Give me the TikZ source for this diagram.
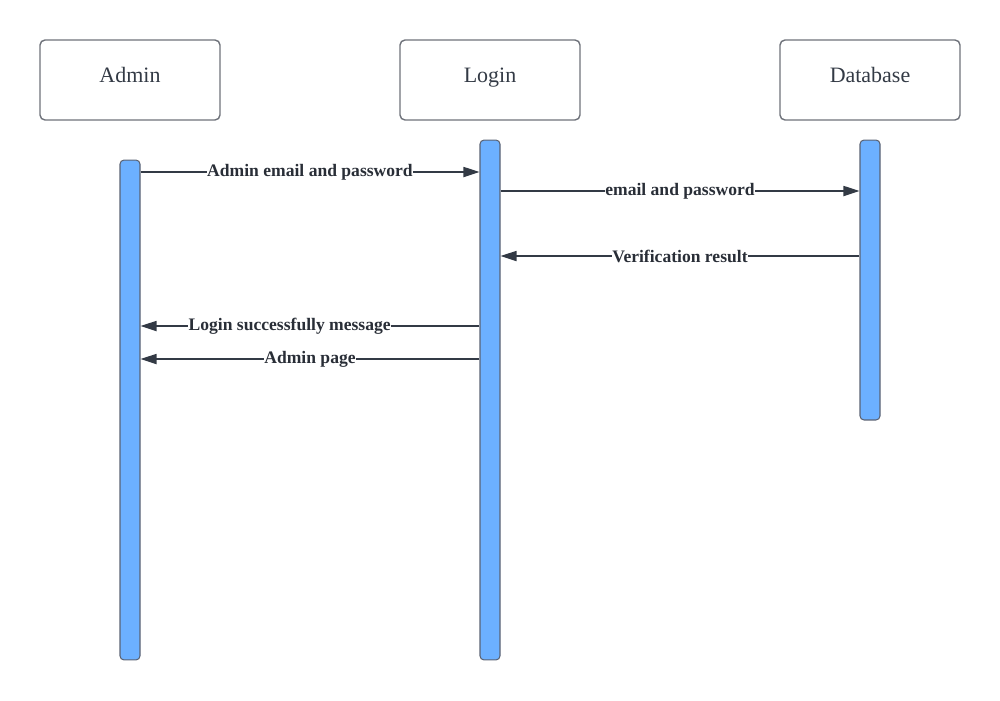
\documentclass[tikz,border=0pt]{standalone}
\usepackage{fontspec}
\setmainfont{Liberation Serif}
\usetikzlibrary{arrows.meta}
\definecolor{barblue}{HTML}{6CB0FF}
\definecolor{barline}{HTML}{5B6373}
\definecolor{boxline}{HTML}{6E727A}
\definecolor{ink}{HTML}{333A45}

\tikzset{
  actor/.style={draw=boxline, line width=.8pt, rounded corners=.1cm, minimum width=3.6cm, minimum height=1.6cm, text height=8.6pt, text depth=5.2pt, text=ink, font=\fontsize{12.5}{14}\selectfont},
  bar/.style={draw=barline, fill=barblue, line width=.6pt, rounded corners=.08cm, minimum width=.4cm, inner sep=0pt},
  msg/.style={draw=ink, line width=1pt, -{Triangle[length=3.2mm, width=2mm]}},
  lbl/.style={fill=white, inner sep=.3pt, text=ink!80!black, font=\fontsize{10}{12}\selectfont\bfseries}
}

\begin{document}
\begin{tikzpicture}[x=.02cm, y=-.02cm]
\useasboundingbox (0,0) rectangle (1000,700);
% lifeline heads
\node[actor] (admin) at (130,80) {Admin};
\node[actor] (login) at (490,80) {Login};
\node[actor] (db) at (870,80) {Database};
% activation bars
\node[bar, minimum height=10cm] (adminbar) at (130,410) {};
\node[bar, minimum height=10.4cm] (loginbar) at (490,400) {};
\node[bar, minimum height=5.6cm] (dbbar) at (870,280) {};
% messages
\draw[msg] (adminbar.east |- 0,172) -- node[lbl] {Admin email and password} (loginbar.west |- 0,172);
\draw[msg] (loginbar.east |- 0,191) -- node[lbl] {email and password} (dbbar.west |- 0,191);
\draw[msg] (dbbar.west |- 0,256) -- node[lbl] {Verification result} (loginbar.east |- 0,256);
\draw[msg] (loginbar.west |- 0,326) -- node[lbl, pos=.56] {Login successfully message} (adminbar.east |- 0,326);
\draw[msg] (loginbar.west |- 0,359) -- node[lbl] {Admin page} (adminbar.east |- 0,359);
\end{tikzpicture}
\end{document}
